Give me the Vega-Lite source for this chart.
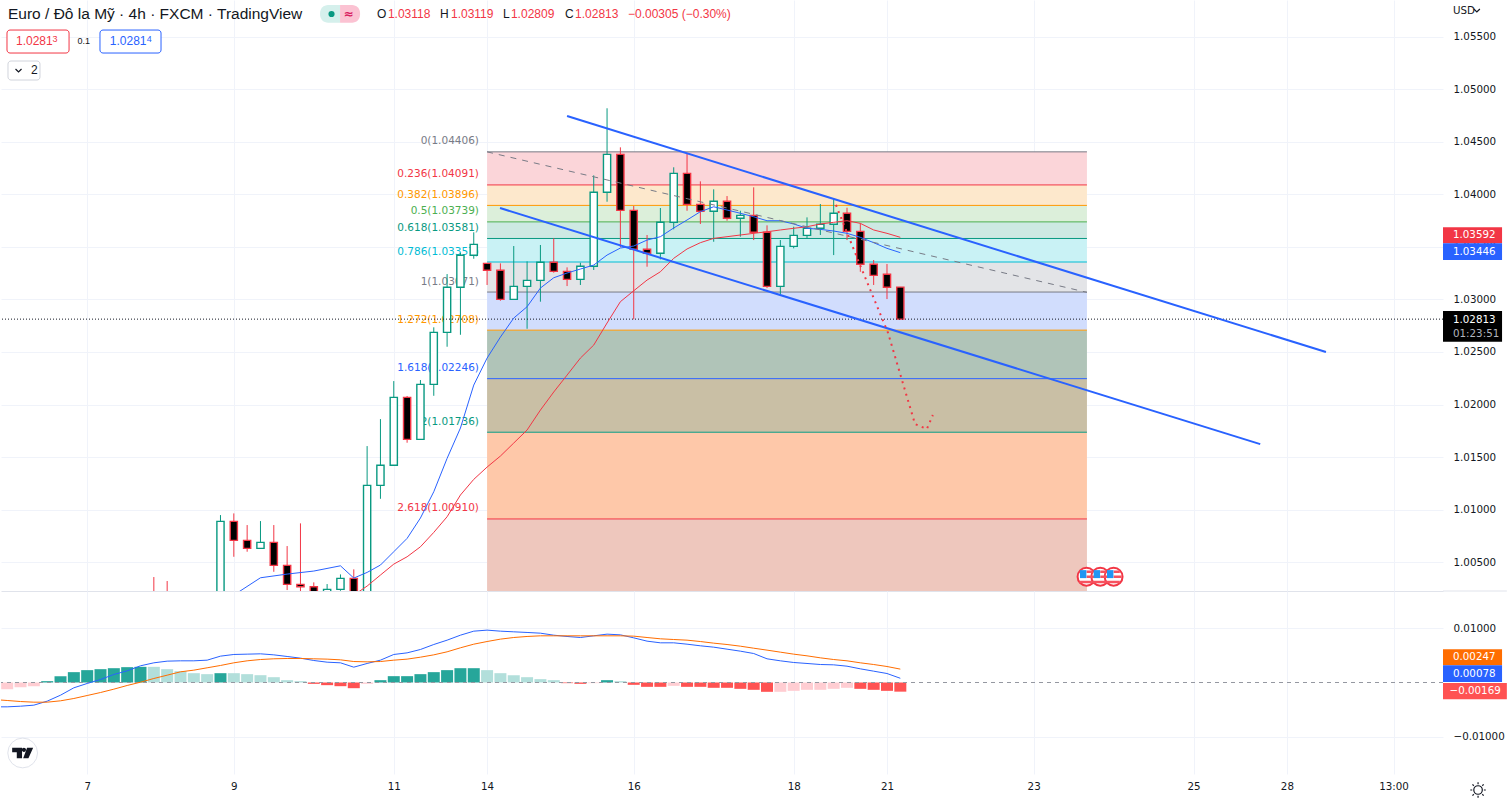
{"$schema":"https://vega.github.io/schema/vega-lite/v6.json","background":"#ffffff","padding":0,"spacing":0,"bounds":"flush","autosize":{"type":"pad"},"config":{"view":{"stroke":null},"text":{"font":"Liberation Sans"}},
"datasets":{
"candles":[
{"bar":11,"open":1.0015,"high":1.00357,"low":1.0005,"close":1.001,"dir":"down"},
{"bar":12,"open":1.0015,"high":1.00319,"low":1.0005,"close":1.001,"dir":"down"},
{"bar":16,"open":1.0,"high":1.00947,"low":0.999,"close":1.00887,"dir":"up"},
{"bar":17,"open":1.00887,"high":1.00963,"low":1.0055,"close":1.00706,"dir":"down"},
{"bar":18,"open":1.00706,"high":1.00852,"low":1.00598,"close":1.0063,"dir":"down"},
{"bar":19,"open":1.0063,"high":1.0089,"low":1.0063,"close":1.00687,"dir":"up"},
{"bar":20,"open":1.00687,"high":1.00852,"low":1.00407,"close":1.00468,"dir":"down"},
{"bar":21,"open":1.00468,"high":1.00652,"low":1.00233,"close":1.00287,"dir":"down"},
{"bar":22,"open":1.00287,"high":1.00868,"low":1.00185,"close":1.00264,"dir":"down"},
{"bar":23,"open":1.00264,"high":1.00306,"low":1.00042,"close":1.00138,"dir":"down"},
{"bar":24,"open":1.0009,"high":1.0029,"low":1.0004,"close":1.00239,"dir":"up"},
{"bar":25,"open":1.00239,"high":1.00382,"low":1.00226,"close":1.00344,"dir":"up"},
{"bar":26,"open":1.00344,"high":1.0043,"low":1.0014,"close":1.00185,"dir":"down"},
{"bar":27,"open":1.00185,"high":1.01604,"low":1.0015,"close":1.0123,"dir":"up"},
{"bar":28,"open":1.0123,"high":1.01861,"low":1.01102,"close":1.01421,"dir":"up"},
{"bar":29,"open":1.01421,"high":1.02223,"low":1.01421,"close":1.02068,"dir":"up"},
{"bar":30,"open":1.02068,"high":1.02081,"low":1.01636,"close":1.01668,"dir":"down"},
{"bar":31,"open":1.01668,"high":1.02233,"low":1.01668,"close":1.02192,"dir":"up"},
{"bar":32,"open":1.02192,"high":1.02735,"low":1.02083,"close":1.02687,"dir":"up"},
{"bar":33,"open":1.02687,"high":1.03242,"low":1.0255,"close":1.03116,"dir":"up"},
{"bar":34,"open":1.03116,"high":1.03445,"low":1.02664,"close":1.03421,"dir":"up"},
{"bar":35,"open":1.03421,"high":1.0364,"low":1.03388,"close":1.03525,"dir":"up"},
{"bar":36,"open":1.03344,"high":1.03344,"low":1.03138,"close":1.03278,"dir":"down"},
{"bar":37,"open":1.03278,"high":1.03344,"low":1.02988,"close":1.03001,"dir":"down"},
{"bar":38,"open":1.03001,"high":1.03509,"low":1.03001,"close":1.03125,"dir":"up"},
{"bar":39,"open":1.03125,"high":1.03363,"low":1.02721,"close":1.03182,"dir":"up"},
{"bar":40,"open":1.03182,"high":1.03519,"low":1.02979,"close":1.03354,"dir":"up"},
{"bar":41,"open":1.03354,"high":1.03582,"low":1.03255,"close":1.03268,"dir":"down"},
{"bar":42,"open":1.03268,"high":1.03306,"low":1.03128,"close":1.03192,"dir":"down"},
{"bar":43,"open":1.03192,"high":1.0335,"low":1.03138,"close":1.03316,"dir":"up"},
{"bar":44,"open":1.03316,"high":1.04182,"low":1.03281,"close":1.04021,"dir":"up"},
{"bar":45,"open":1.04021,"high":1.04821,"low":1.03931,"close":1.04382,"dir":"up"},
{"bar":46,"open":1.04382,"high":1.04449,"low":1.03497,"close":1.03849,"dir":"down"},
{"bar":47,"open":1.03849,"high":1.0389,"low":1.02811,"close":1.03478,"dir":"down"},
{"bar":48,"open":1.03478,"high":1.03614,"low":1.03312,"close":1.0344,"dir":"down"},
{"bar":49,"open":1.0344,"high":1.03871,"low":1.03382,"close":1.03735,"dir":"up"},
{"bar":50,"open":1.03735,"high":1.04259,"low":1.03668,"close":1.04201,"dir":"up"},
{"bar":51,"open":1.04201,"high":1.04392,"low":1.03845,"close":1.03906,"dir":"down"},
{"bar":52,"open":1.03906,"high":1.04125,"low":1.03719,"close":1.0384,"dir":"down"},
{"bar":53,"open":1.0384,"high":1.04049,"low":1.0355,"close":1.03935,"dir":"up"},
{"bar":54,"open":1.03935,"high":1.03985,"low":1.0375,"close":1.03773,"dir":"down"},
{"bar":55,"open":1.03773,"high":1.03845,"low":1.03598,"close":1.03801,"dir":"up"},
{"bar":56,"open":1.03801,"high":1.04068,"low":1.03566,"close":1.0364,"dir":"down"},
{"bar":57,"open":1.0364,"high":1.03706,"low":1.03109,"close":1.03125,"dir":"down"},
{"bar":58,"open":1.03125,"high":1.03566,"low":1.03049,"close":1.03506,"dir":"up"},
{"bar":59,"open":1.03506,"high":1.03693,"low":1.03487,"close":1.03611,"dir":"up"},
{"bar":60,"open":1.03611,"high":1.03782,"low":1.03582,"close":1.03678,"dir":"up"},
{"bar":61,"open":1.03678,"high":1.03909,"low":1.03614,"close":1.03716,"dir":"up"},
{"bar":62,"open":1.03716,"high":1.0396,"low":1.03423,"close":1.03821,"dir":"up"},
{"bar":63,"open":1.03821,"high":1.03874,"low":1.03566,"close":1.03649,"dir":"down"},
{"bar":64,"open":1.03649,"high":1.03725,"low":1.03264,"close":1.03335,"dir":"down"},
{"bar":65,"open":1.03335,"high":1.03376,"low":1.03138,"close":1.0323,"dir":"down"},
{"bar":66,"open":1.0324,"high":1.03338,"low":1.03004,"close":1.03116,"dir":"down"},
{"bar":67,"open":1.03118,"high":1.03119,"low":1.02809,"close":1.02813,"dir":"down"}
],
"ma":[
{"bar":17,"price":1.00185,"s":"fast"},{"bar":19,"price":1.0035,"s":"fast"},{"bar":21,"price":1.00385,"s":"fast"},{"bar":23,"price":1.00414,"s":"fast"},{"bar":25,"price":1.00464,"s":"fast"},{"bar":26,"price":1.00347,"s":"fast"},{"bar":27,"price":1.00401,"s":"fast"},{"bar":28,"price":1.00471,"s":"fast"},{"bar":29,"price":1.00598,"s":"fast"},{"bar":30,"price":1.00725,"s":"fast"},{"bar":31,"price":1.00919,"s":"fast"},{"bar":32,"price":1.01169,"s":"fast"},{"bar":33,"price":1.01487,"s":"fast"},{"bar":34,"price":1.01776,"s":"fast"},{"bar":35,"price":1.02185,"s":"fast"},{"bar":36,"price":1.02442,"s":"fast"},{"bar":37,"price":1.02642,"s":"fast"},{"bar":38,"price":1.02823,"s":"fast"},{"bar":39,"price":1.02931,"s":"fast"},{"bar":40,"price":1.03109,"s":"fast"},{"bar":41,"price":1.03207,"s":"fast"},{"bar":42,"price":1.03252,"s":"fast"},{"bar":43,"price":1.0329,"s":"fast"},{"bar":44,"price":1.03328,"s":"fast"},{"bar":45,"price":1.03423,"s":"fast"},{"bar":46,"price":1.0349,"s":"fast"},{"bar":47,"price":1.03509,"s":"fast"},{"bar":48,"price":1.03566,"s":"fast"},{"bar":49,"price":1.03598,"s":"fast"},{"bar":50,"price":1.03681,"s":"fast"},{"bar":51,"price":1.03757,"s":"fast"},{"bar":52,"price":1.03836,"s":"fast"},{"bar":53,"price":1.03883,"s":"fast"},{"bar":54,"price":1.03852,"s":"fast"},{"bar":55,"price":1.03821,"s":"fast"},{"bar":56,"price":1.03788,"s":"fast"},{"bar":57,"price":1.0375,"s":"fast"},{"bar":58,"price":1.0375,"s":"fast"},{"bar":59,"price":1.03719,"s":"fast"},{"bar":60,"price":1.03678,"s":"fast"},{"bar":61,"price":1.03668,"s":"fast"},{"bar":62,"price":1.03652,"s":"fast"},{"bar":63,"price":1.0363,"s":"fast"},{"bar":64,"price":1.03592,"s":"fast"},{"bar":65,"price":1.03541,"s":"fast"},{"bar":66,"price":1.03487,"s":"fast"},{"bar":67,"price":1.03446,"s":"fast"},
{"bar":26,"price":1.00185,"s":"slow"},{"bar":27,"price":1.00271,"s":"slow"},{"bar":28,"price":1.00376,"s":"slow"},{"bar":29,"price":1.0048,"s":"slow"},{"bar":30,"price":1.0055,"s":"slow"},{"bar":31,"price":1.00645,"s":"slow"},{"bar":32,"price":1.00782,"s":"slow"},{"bar":33,"price":1.00931,"s":"slow"},{"bar":34,"price":1.01138,"s":"slow"},{"bar":35,"price":1.01287,"s":"slow"},{"bar":36,"price":1.01404,"s":"slow"},{"bar":37,"price":1.01509,"s":"slow"},{"bar":38,"price":1.01633,"s":"slow"},{"bar":39,"price":1.01757,"s":"slow"},{"bar":40,"price":1.01947,"s":"slow"},{"bar":41,"price":1.02119,"s":"slow"},{"bar":42,"price":1.0228,"s":"slow"},{"bar":43,"price":1.02442,"s":"slow"},{"bar":44,"price":1.02566,"s":"slow"},{"bar":45,"price":1.02776,"s":"slow"},{"bar":46,"price":1.02979,"s":"slow"},{"bar":47,"price":1.03083,"s":"slow"},{"bar":48,"price":1.03185,"s":"slow"},{"bar":49,"price":1.03264,"s":"slow"},{"bar":50,"price":1.03392,"s":"slow"},{"bar":51,"price":1.03481,"s":"slow"},{"bar":52,"price":1.03541,"s":"slow"},{"bar":53,"price":1.03582,"s":"slow"},{"bar":54,"price":1.03598,"s":"slow"},{"bar":55,"price":1.03614,"s":"slow"},{"bar":56,"price":1.0363,"s":"slow"},{"bar":57,"price":1.03645,"s":"slow"},{"bar":58,"price":1.03662,"s":"slow"},{"bar":59,"price":1.03678,"s":"slow"},{"bar":60,"price":1.03693,"s":"slow"},{"bar":61,"price":1.03719,"s":"slow"},{"bar":62,"price":1.03735,"s":"slow"},{"bar":63,"price":1.0375,"s":"slow"},{"bar":64,"price":1.03725,"s":"slow"},{"bar":65,"price":1.03662,"s":"slow"},{"bar":66,"price":1.0363,"s":"slow"},{"bar":67,"price":1.03592,"s":"slow"}
],
"fib":[
{"level":"0","label":"0(1.04406)","price":1.04406,"next":1.04091,"from":36,"to":81},
{"level":"0.236","label":"0.236(1.04091)","price":1.04091,"next":1.03896,"from":36,"to":81},
{"level":"0.382","label":"0.382(1.03896)","price":1.03896,"next":1.03739,"from":36,"to":81},
{"level":"0.5","label":"0.5(1.03739)","price":1.03739,"next":1.03581,"from":36,"to":81},
{"level":"0.618","label":"0.618(1.03581)","price":1.03581,"next":1.03357,"from":36,"to":81},
{"level":"0.786","label":"0.786(1.03357)","price":1.03357,"next":1.03071,"from":36,"to":81},
{"level":"1","label":"1(1.03071)","price":1.03071,"next":1.02708,"from":36,"to":81},
{"level":"1.272","label":"1.272(1.02708)","price":1.02708,"next":1.02246,"from":36,"to":81},
{"level":"1.618","label":"1.618(1.02246)","price":1.02246,"next":1.01736,"from":36,"to":81},
{"level":"2","label":"2(1.01736)","price":1.01736,"next":1.0091,"from":36,"to":81},
{"level":"2.618","label":"2.618(1.00910)","price":1.0091,"next":0.99576,"from":36,"to":81}
],
"trend":[
{"line":"upper","bar":42,"price":1.04747},{"line":"upper","bar":98.93,"price":1.025},
{"line":"lower","bar":36.97,"price":1.03871},{"line":"lower","bar":94,"price":1.01623}
],
"diag":[{"bar":36,"price":1.04406},{"bar":81,"price":1.03068}],
"path":[{"bar":62.17,"price":1.039},{"bar":63.98,"price":1.03328},{"bar":66.08,"price":1.02681},{"bar":68.1,"price":1.01814},{"bar":68.99,"price":1.01766},{"bar":69.44,"price":1.019}],
"flags":[{"bar":80.97,"price":1.0036},{"bar":82,"price":1.0036},{"bar":83,"price":1.0036}],
"boxes":[
{"b0":-0.015,"b1":4.64,"p0":1.05566,"p1":1.05347,"k":"red"},
{"b0":6.96,"b1":11.54,"p0":1.05566,"p1":1.05347,"k":"blue"},
{"b0":0.06,"b1":2.46,"p0":1.05271,"p1":1.0509,"k":"gray"}
],
"head14":[{"bar":0.06,"price":1.05719,"t":"Euro / Đô la Mỹ · 4h · FXCM · TradingView"}],
"head12":[
{"bar":27.74,"price":1.05719,"t":"O","k":"dark"},{"bar":28.56,"price":1.05719,"t":"1.03118","k":"red"},
{"bar":32.46,"price":1.05719,"t":"H","k":"dark"},{"bar":33.29,"price":1.05719,"t":"1.03119","k":"red"},
{"bar":37.19,"price":1.05719,"t":"L","k":"dark"},{"bar":37.79,"price":1.05719,"t":"1.02809","k":"red"},
{"bar":41.84,"price":1.05719,"t":"C","k":"dark"},{"bar":42.6,"price":1.05719,"t":"1.02813","k":"red"},
{"bar":46.57,"price":1.05719,"t":"−0.00305 (−0.30%)","k":"red"},
{"bar":0.66,"price":1.05457,"t":"1.0281","k":"red"},
{"bar":7.7,"price":1.05457,"t":"1.0281","k":"blue"},
{"bar":1.79,"price":1.05181,"t":"2","k":"dark"}
],
"head9":[
{"bar":3.4,"price":1.05477,"t":"3","k":"red"},
{"bar":10.47,"price":1.05477,"t":"4","k":"blue"},
{"bar":5.28,"price":1.05457,"t":"0.1","k":"dark"}
],
"tags":[
{"p0":1.03687,"p1":1.03535,"k":"red","b0":107.71,"b1":112.14},
{"p0":1.03535,"p1":1.03376,"k":"blue","b0":107.71,"b1":112.14},
{"p0":1.0289,"p1":1.02598,"k":"black","b0":107.71,"b1":112.14}
],
"tagText":[
{"bar":108.46,"price":1.03614,"t":"1.03592","k":"white"},
{"bar":108.46,"price":1.03452,"t":"1.03446","k":"white"},
{"bar":108.46,"price":1.02809,"t":"1.02813","k":"white"},
{"bar":108.46,"price":1.02671,"t":"01:23:51","k":"muted"}
],
"usd":[{"bar":108.46,"price":1.05752,"t":"USD"}],
"last":[{"price":1.02813}],
"sep":[{"b0":107.71,"b1":112.5,"price":1.00224}],
"pillDot":[{"bar":24.33,"price":1.05719}],
"pillSign":[{"bar":25.6,"price":1.05719,"t":"≈"}],
"pillL":[{"b0":23.47,"b1":24.97,"p0":1.05804,"p1":1.05636}],
"pillR":[{"b0":24.97,"b1":26.47,"p0":1.05804,"p1":1.05636}],
"chev":[{"bar":0.85,"price":1.05181,"k":"box"},{"bar":110.25,"price":1.05752,"k":"usd"}],
"hist":[
{"bar":0,"v":-0.00123,"st":"fall"},{"bar":1,"v":-0.00086,"st":"fall"},{"bar":2,"v":-0.00068,"st":"fall"},{"bar":3,"v":0.00025,"st":"grow"},{"bar":4,"v":0.00117,"st":"grow"},{"bar":5,"v":0.00191,"st":"grow"},{"bar":6,"v":0.00228,"st":"grow"},{"bar":7,"v":0.00246,"st":"grow"},{"bar":8,"v":0.00264,"st":"grow"},{"bar":9,"v":0.00283,"st":"grow"},{"bar":10,"v":0.00289,"st":"grow"},{"bar":11,"v":0.00289,"st":"ease"},{"bar":12,"v":0.00246,"st":"ease"},{"bar":13,"v":0.00209,"st":"ease"},{"bar":14,"v":0.00172,"st":"ease"},{"bar":15,"v":0.00154,"st":"ease"},{"bar":16,"v":0.00172,"st":"grow"},{"bar":17,"v":0.00172,"st":"ease"},{"bar":18,"v":0.00154,"st":"ease"},{"bar":19,"v":0.00135,"st":"ease"},{"bar":20,"v":0.00098,"st":"ease"},{"bar":21,"v":0.00043,"st":"ease"},{"bar":22,"v":0.00025,"st":"ease"},{"bar":23,"v":-0.00025,"st":"drop"},{"bar":24,"v":-0.00049,"st":"drop"},{"bar":25,"v":-0.00068,"st":"drop"},{"bar":26,"v":-0.00105,"st":"drop"},{"bar":27,"v":-0.00025,"st":"fall"},{"bar":28,"v":0.00043,"st":"grow"},{"bar":29,"v":0.00117,"st":"grow"},{"bar":30,"v":0.00117,"st":"grow"},{"bar":31,"v":0.00154,"st":"grow"},{"bar":32,"v":0.00191,"st":"grow"},{"bar":33,"v":0.00228,"st":"grow"},{"bar":34,"v":0.00264,"st":"grow"},{"bar":35,"v":0.00264,"st":"grow"},{"bar":36,"v":0.00228,"st":"ease"},{"bar":37,"v":0.00172,"st":"ease"},{"bar":38,"v":0.00135,"st":"ease"},{"bar":39,"v":0.00098,"st":"ease"},{"bar":40,"v":0.00062,"st":"ease"},{"bar":41,"v":0.00043,"st":"ease"},{"bar":42,"v":-0.00012,"st":"drop"},{"bar":43,"v":-0.00025,"st":"drop"},{"bar":44,"v":-0.00012,"st":"fall"},{"bar":45,"v":0.00043,"st":"grow"},{"bar":46,"v":0.00025,"st":"ease"},{"bar":47,"v":-0.00043,"st":"drop"},{"bar":48,"v":-0.0008,"st":"drop"},{"bar":49,"v":-0.0008,"st":"drop"},{"bar":50,"v":-0.00062,"st":"fall"},{"bar":51,"v":-0.0008,"st":"drop"},{"bar":52,"v":-0.0008,"st":"drop"},{"bar":53,"v":-0.00098,"st":"drop"},{"bar":54,"v":-0.00098,"st":"drop"},{"bar":55,"v":-0.00117,"st":"drop"},{"bar":56,"v":-0.00135,"st":"drop"},{"bar":57,"v":-0.00172,"st":"drop"},{"bar":58,"v":-0.00172,"st":"fall"},{"bar":59,"v":-0.00154,"st":"fall"},{"bar":60,"v":-0.00135,"st":"fall"},{"bar":61,"v":-0.00135,"st":"fall"},{"bar":62,"v":-0.00117,"st":"fall"},{"bar":63,"v":-0.00098,"st":"fall"},{"bar":64,"v":-0.00117,"st":"drop"},{"bar":65,"v":-0.00135,"st":"drop"},{"bar":66,"v":-0.00154,"st":"drop"},{"bar":67,"v":-0.00169,"st":"drop"}
],
"macd":[
{"bar":-1,"v":-0.00449,"s":"macd"},{"bar":0,"v":-0.00449,"s":"macd"},{"bar":1,"v":-0.00437,"s":"macd"},{"bar":2,"v":-0.00418,"s":"macd"},{"bar":3,"v":-0.00344,"s":"macd"},{"bar":4,"v":-0.00234,"s":"macd"},{"bar":5,"v":-0.00098,"s":"macd"},{"bar":6,"v":-0.00018,"s":"macd"},{"bar":7,"v":0.00055,"s":"macd"},{"bar":8,"v":0.00148,"s":"macd"},{"bar":9,"v":0.00215,"s":"macd"},{"bar":10,"v":0.00308,"s":"macd"},{"bar":11,"v":0.00363,"s":"macd"},{"bar":12,"v":0.00394,"s":"macd"},{"bar":13,"v":0.004,"s":"macd"},{"bar":14,"v":0.004,"s":"macd"},{"bar":15,"v":0.00412,"s":"macd"},{"bar":16,"v":0.00486,"s":"macd"},{"bar":17,"v":0.00517,"s":"macd"},{"bar":18,"v":0.00523,"s":"macd"},{"bar":19,"v":0.00529,"s":"macd"},{"bar":20,"v":0.0051,"s":"macd"},{"bar":21,"v":0.0048,"s":"macd"},{"bar":22,"v":0.00449,"s":"macd"},{"bar":23,"v":0.00406,"s":"macd"},{"bar":24,"v":0.00375,"s":"macd"},{"bar":25,"v":0.00363,"s":"macd"},{"bar":26,"v":0.00283,"s":"macd"},{"bar":27,"v":0.00351,"s":"macd"},{"bar":28,"v":0.00412,"s":"macd"},{"bar":29,"v":0.00517,"s":"macd"},{"bar":30,"v":0.00547,"s":"macd"},{"bar":31,"v":0.00609,"s":"macd"},{"bar":32,"v":0.00701,"s":"macd"},{"bar":33,"v":0.00781,"s":"macd"},{"bar":34,"v":0.00873,"s":"macd"},{"bar":35,"v":0.00947,"s":"macd"},{"bar":36,"v":0.00966,"s":"macd"},{"bar":37,"v":0.00947,"s":"macd"},{"bar":38,"v":0.00935,"s":"macd"},{"bar":39,"v":0.00923,"s":"macd"},{"bar":40,"v":0.0091,"s":"macd"},{"bar":41,"v":0.00873,"s":"macd"},{"bar":42,"v":0.00849,"s":"macd"},{"bar":43,"v":0.0083,"s":"macd"},{"bar":44,"v":0.00861,"s":"macd"},{"bar":45,"v":0.00892,"s":"macd"},{"bar":46,"v":0.00879,"s":"macd"},{"bar":47,"v":0.00824,"s":"macd"},{"bar":48,"v":0.00763,"s":"macd"},{"bar":49,"v":0.00732,"s":"macd"},{"bar":50,"v":0.00732,"s":"macd"},{"bar":51,"v":0.00707,"s":"macd"},{"bar":52,"v":0.00677,"s":"macd"},{"bar":53,"v":0.00652,"s":"macd"},{"bar":54,"v":0.00615,"s":"macd"},{"bar":55,"v":0.00578,"s":"macd"},{"bar":56,"v":0.00535,"s":"macd"},{"bar":57,"v":0.00437,"s":"macd"},{"bar":58,"v":0.004,"s":"macd"},{"bar":59,"v":0.00369,"s":"macd"},{"bar":60,"v":0.00351,"s":"macd"},{"bar":61,"v":0.00332,"s":"macd"},{"bar":62,"v":0.00326,"s":"macd"},{"bar":63,"v":0.00301,"s":"macd"},{"bar":64,"v":0.00252,"s":"macd"},{"bar":65,"v":0.00209,"s":"macd"},{"bar":66,"v":0.00166,"s":"macd"},{"bar":67,"v":0.00078,"s":"macd"},
{"bar":-1,"v":-0.00314,"s":"signal"},{"bar":0,"v":-0.00332,"s":"signal"},{"bar":1,"v":-0.00351,"s":"signal"},{"bar":2,"v":-0.00363,"s":"signal"},{"bar":3,"v":-0.00363,"s":"signal"},{"bar":4,"v":-0.00338,"s":"signal"},{"bar":5,"v":-0.00295,"s":"signal"},{"bar":6,"v":-0.0024,"s":"signal"},{"bar":7,"v":-0.00185,"s":"signal"},{"bar":8,"v":-0.00123,"s":"signal"},{"bar":9,"v":-0.00055,"s":"signal"},{"bar":10,"v":0.00006,"s":"signal"},{"bar":11,"v":0.00074,"s":"signal"},{"bar":12,"v":0.00135,"s":"signal"},{"bar":13,"v":0.00197,"s":"signal"},{"bar":14,"v":0.00228,"s":"signal"},{"bar":15,"v":0.00271,"s":"signal"},{"bar":16,"v":0.00314,"s":"signal"},{"bar":17,"v":0.00363,"s":"signal"},{"bar":18,"v":0.004,"s":"signal"},{"bar":19,"v":0.00424,"s":"signal"},{"bar":20,"v":0.00437,"s":"signal"},{"bar":21,"v":0.00443,"s":"signal"},{"bar":22,"v":0.00443,"s":"signal"},{"bar":23,"v":0.00437,"s":"signal"},{"bar":24,"v":0.00431,"s":"signal"},{"bar":25,"v":0.00418,"s":"signal"},{"bar":26,"v":0.00387,"s":"signal"},{"bar":27,"v":0.00381,"s":"signal"},{"bar":28,"v":0.00387,"s":"signal"},{"bar":29,"v":0.00412,"s":"signal"},{"bar":30,"v":0.00431,"s":"signal"},{"bar":31,"v":0.00467,"s":"signal"},{"bar":32,"v":0.0051,"s":"signal"},{"bar":33,"v":0.00566,"s":"signal"},{"bar":34,"v":0.0064,"s":"signal"},{"bar":35,"v":0.00707,"s":"signal"},{"bar":36,"v":0.00756,"s":"signal"},{"bar":37,"v":0.008,"s":"signal"},{"bar":38,"v":0.0083,"s":"signal"},{"bar":39,"v":0.00849,"s":"signal"},{"bar":40,"v":0.00861,"s":"signal"},{"bar":41,"v":0.00861,"s":"signal"},{"bar":42,"v":0.00861,"s":"signal"},{"bar":43,"v":0.00861,"s":"signal"},{"bar":44,"v":0.00861,"s":"signal"},{"bar":45,"v":0.00861,"s":"signal"},{"bar":46,"v":0.00861,"s":"signal"},{"bar":47,"v":0.00855,"s":"signal"},{"bar":48,"v":0.0083,"s":"signal"},{"bar":49,"v":0.00806,"s":"signal"},{"bar":50,"v":0.00793,"s":"signal"},{"bar":51,"v":0.00781,"s":"signal"},{"bar":52,"v":0.00756,"s":"signal"},{"bar":53,"v":0.00726,"s":"signal"},{"bar":54,"v":0.00701,"s":"signal"},{"bar":55,"v":0.0067,"s":"signal"},{"bar":56,"v":0.00633,"s":"signal"},{"bar":57,"v":0.00597,"s":"signal"},{"bar":58,"v":0.0056,"s":"signal"},{"bar":59,"v":0.00523,"s":"signal"},{"bar":60,"v":0.00492,"s":"signal"},{"bar":61,"v":0.00455,"s":"signal"},{"bar":62,"v":0.00424,"s":"signal"},{"bar":63,"v":0.004,"s":"signal"},{"bar":64,"v":0.00363,"s":"signal"},{"bar":65,"v":0.00332,"s":"signal"},{"bar":66,"v":0.00295,"s":"signal"},{"bar":67,"v":0.00247,"s":"signal"}
],
"mTags":[
{"v0":0.00613,"v1":0.00317,"k":"orange","b0":107.71,"b1":112.14},
{"v0":0.00317,"v1":0.00009,"k":"blue","b0":107.71,"b1":112.14},
{"v0":-0.00009,"v1":-0.0031,"k":"red","b0":107.71,"b1":112.5}
],
"mTagText":[
{"bar":108.46,"v":0.00465,"t":"0.00247"},
{"bar":108.46,"v":0.00157,"t":"0.00078"},
{"bar":108.2,"v":-0.00157,"t":"−0.00169"}
],
"logoBg":[{"bar":1.16,"v":-0.013}],
"sun":[{"bar":110.34,"v":-0.01983}]
},
"vconcat":[
{"width":1442,"height":591,
"resolve":{"scale":{"color":"independent","stroke":"independent","fill":"independent"}},
"layer":[
{"data":{"name":"fib"},"mark":{"type":"rect","clip":true},"encoding":{
"x":{"field":"from","type":"quantitative","scale":{"domain":[-0.465,107.71],"nice":false,"zero":false,"padding":0},
"axis":{"title":null,"values":[6,17,29,36,47,59,66,77,89,96,104],"labels":false,"ticks":false,"domain":true,"domainColor":"#e0e3eb","grid":true,"gridColor":"#f0f3fa"}},
"x2":{"field":"to"},
"y":{"field":"price","type":"quantitative","scale":{"domain":[1.00224,1.05852],"nice":false,"zero":false},
"axis":{"title":null,"orient":"right","values":[1.005,1.01,1.015,1.02,1.025,1.03,1.035,1.04,1.045,1.05,1.055],"format":".5f","grid":true,"gridColor":"#f0f3fa","domain":false,"ticks":false,"labelPadding":10,"labelFont":"DejaVu Sans","labelFontSize":10.3,"labelColor":"#131722"}},
"y2":{"field":"next"},
"fill":{"field":"level","type":"nominal","legend":null,"scale":{"domain":["0","0.236","0.382","0.5","0.618","0.786","1","1.272","1.618","2","2.618"],"range":["#fbd5d9","#fde8cc","#dcefda","#cde9e3","#c9f2f5","#e3e4e7","#d1ddfd","#b0c4b8","#c9bfa5","#fec8a9","#eec7bd"]}}}},
{"data":{"name":"fib"},"mark":{"type":"rule","strokeWidth":1},"encoding":{"x":{"field":"from","type":"quantitative"},"x2":{"field":"to"},"y":{"field":"price","type":"quantitative"},
"stroke":{"field":"level","type":"nominal","legend":null,"scale":{"domain":["0","0.236","0.382","0.5","0.618","0.786","1","1.272","1.618","2","2.618"],"range":["#787b86","#f23645","#ff9800","#4caf50","#089981","#00bcd4","#787b86","#ff9800","#2962ff","#089981","#f23645"]}}}},
{"data":{"name":"fib"},"mark":{"type":"text","align":"right","baseline":"middle","dy":-10.5,"font":"DejaVu Sans","fontSize":10.5},"encoding":{"x":{"datum":35.39,"type":"quantitative"},"y":{"field":"price","type":"quantitative"},"text":{"field":"label"},
"color":{"field":"level","type":"nominal","legend":null,"scale":{"domain":["0","0.236","0.382","0.5","0.618","0.786","1","1.272","1.618","2","2.618"],"range":["#787b86","#f23645","#ff9800","#4caf50","#089981","#00bcd4","#787b86","#ff9800","#2962ff","#089981","#f23645"]}}}},
{"data":{"name":"candles"},"mark":{"type":"rule","clip":true,"strokeWidth":1},"encoding":{"x":{"field":"bar","type":"quantitative"},"y":{"field":"low","type":"quantitative"},"y2":{"field":"high"},
"stroke":{"field":"dir","type":"nominal","legend":null,"scale":{"domain":["up","down"],"range":["#089981","#f23645"]}}}},
{"data":{"name":"candles"},"mark":{"type":"bar","clip":true,"size":7.2,"strokeWidth":1.4,"orient":"vertical"},"encoding":{"x":{"field":"bar","type":"quantitative"},"y":{"field":"open","type":"quantitative"},"y2":{"field":"close"},
"fill":{"field":"dir","type":"nominal","legend":null,"scale":{"domain":["up","down"],"range":["#ffffff","#000000"]}},
"stroke":{"field":"dir","type":"nominal","legend":null,"scale":{"domain":["up","down"],"range":["#089981","#f23645"]}}}},
{"data":{"name":"last"},"mark":{"type":"rule","stroke":"#131722","strokeDash":[1,2],"strokeWidth":1},"encoding":{"y":{"field":"price","type":"quantitative"}}},
{"data":{"name":"sep"},"mark":{"type":"rule","stroke":"#e0e3eb","strokeWidth":1},"encoding":{"x":{"field":"b0","type":"quantitative"},"x2":{"field":"b1"},"y":{"field":"price","type":"quantitative"}}},
{"data":{"name":"ma"},"mark":{"type":"line","clip":true,"strokeWidth":1},"encoding":{"x":{"field":"bar","type":"quantitative"},"y":{"field":"price","type":"quantitative"},
"stroke":{"field":"s","type":"nominal","legend":null,"scale":{"domain":["fast","slow"],"range":["#2962ff","#f23645"]}}}},
{"data":{"name":"trend"},"mark":{"type":"line","stroke":"#2962ff","strokeWidth":2},"encoding":{"x":{"field":"bar","type":"quantitative"},"y":{"field":"price","type":"quantitative"},"detail":{"field":"line"}}},
{"data":{"name":"diag"},"mark":{"type":"line","stroke":"#787b86","strokeWidth":1,"strokeDash":[6,6]},"encoding":{"x":{"field":"bar","type":"quantitative"},"y":{"field":"price","type":"quantitative"}}},
{"data":{"name":"path"},"mark":{"type":"line","stroke":"#f23645","strokeWidth":2,"strokeDash":[2,4.5]},"encoding":{"x":{"field":"bar","type":"quantitative"},"y":{"field":"price","type":"quantitative"}}},
{"data":{"name":"flags"},"mark":{"type":"point","shape":"circle","filled":true,"fill":"#ffffff","stroke":"#f23645","strokeWidth":2,"size":320,"opacity":1},"encoding":{"x":{"field":"bar","type":"quantitative"},"y":{"field":"price","type":"quantitative"}}},
{"data":{"name":"flags"},"mark":{"type":"point","shape":"M0 -.62H.62V-.36H0ZM0 -.12H.8V.14H0ZM-.72 .4H.62V.66H-.72Z","filled":true,"fill":"#f7525f","size":400,"opacity":1},"encoding":{"x":{"field":"bar","type":"quantitative"},"y":{"field":"price","type":"quantitative"}}},
{"data":{"name":"flags"},"mark":{"type":"point","shape":"M-.66 -.66H-.02V.14H-.66Z","filled":true,"fill":"#2196f3","size":400,"opacity":1},"encoding":{"x":{"field":"bar","type":"quantitative"},"y":{"field":"price","type":"quantitative"}}},
{"data":{"name":"boxes"},"mark":{"type":"rect","fill":"#ffffff","cornerRadius":3,"strokeWidth":1},"encoding":{"x":{"field":"b0","type":"quantitative"},"x2":{"field":"b1"},"y":{"field":"p0","type":"quantitative"},"y2":{"field":"p1"},
"stroke":{"field":"k","type":"nominal","legend":null,"scale":{"domain":["red","blue","gray"],"range":["#f23645","#2962ff","#d1d4dc"]}}}},
{"data":{"name":"pillL"},"mark":{"type":"rect","fill":"#d5f0ec","cornerRadiusTopLeft":8,"cornerRadiusBottomLeft":8},"encoding":{"x":{"field":"b0","type":"quantitative"},"x2":{"field":"b1"},"y":{"field":"p0","type":"quantitative"},"y2":{"field":"p1"}}},
{"data":{"name":"pillR"},"mark":{"type":"rect","fill":"#fbc2d2","cornerRadiusTopRight":8,"cornerRadiusBottomRight":8},"encoding":{"x":{"field":"b0","type":"quantitative"},"x2":{"field":"b1"},"y":{"field":"p0","type":"quantitative"},"y2":{"field":"p1"}}},
{"data":{"name":"pillDot"},"mark":{"type":"point","shape":"circle","filled":true,"fill":"#089981","size":38,"opacity":1},"encoding":{"x":{"field":"bar","type":"quantitative"},"y":{"field":"price","type":"quantitative"}}},
{"data":{"name":"pillSign"},"mark":{"type":"text","font":"DejaVu Sans","fontWeight":"bold","fontSize":12,"fill":"#d81b60","align":"center","baseline":"middle"},"encoding":{"x":{"field":"bar","type":"quantitative"},"y":{"field":"price","type":"quantitative"},"text":{"field":"t"}}},
{"data":{"name":"head14"},"mark":{"type":"text","font":"Liberation Sans","fontSize":15.5,"fill":"#131722","align":"left","baseline":"middle"},"encoding":{"x":{"field":"bar","type":"quantitative"},"y":{"field":"price","type":"quantitative"},"text":{"field":"t"}}},
{"data":{"name":"head12"},"mark":{"type":"text","font":"Liberation Sans","fontSize":12,"align":"left","baseline":"middle"},"encoding":{"x":{"field":"bar","type":"quantitative"},"y":{"field":"price","type":"quantitative"},"text":{"field":"t"},
"fill":{"field":"k","type":"nominal","legend":null,"scale":{"domain":["dark","red","blue"],"range":["#131722","#f23645","#2962ff"]}}}},
{"data":{"name":"head9"},"mark":{"type":"text","font":"Liberation Sans","fontSize":9,"align":"left","baseline":"middle"},"encoding":{"x":{"field":"bar","type":"quantitative"},"y":{"field":"price","type":"quantitative"},"text":{"field":"t"},
"fill":{"field":"k","type":"nominal","legend":null,"scale":{"domain":["dark","red","blue"],"range":["#131722","#f23645","#2962ff"]}}}},
{"data":{"name":"chev"},"mark":{"type":"point","shape":"M-1 -.5L0 .5L1 -.5","filled":false,"stroke":"#131722","strokeWidth":1.2,"size":36,"opacity":1},"encoding":{"x":{"field":"bar","type":"quantitative"},"y":{"field":"price","type":"quantitative"}}},
{"data":{"name":"usd"},"mark":{"type":"text","font":"DejaVu Sans","fontSize":10.3,"fill":"#131722","align":"left","baseline":"middle"},"encoding":{"x":{"field":"bar","type":"quantitative"},"y":{"field":"price","type":"quantitative"},"text":{"field":"t"}}},
{"data":{"name":"tags"},"mark":{"type":"rect"},"encoding":{"x":{"field":"b0","type":"quantitative"},"x2":{"field":"b1"},"y":{"field":"p0","type":"quantitative"},"y2":{"field":"p1"},
"fill":{"field":"k","type":"nominal","legend":null,"scale":{"domain":["red","blue","black"],"range":["#f23645","#2962ff","#000000"]}}}},
{"data":{"name":"tagText"},"mark":{"type":"text","font":"DejaVu Sans","fontSize":10.3,"align":"left","baseline":"middle"},"encoding":{"x":{"field":"bar","type":"quantitative"},"y":{"field":"price","type":"quantitative"},"text":{"field":"t"},
"fill":{"field":"k","type":"nominal","legend":null,"scale":{"domain":["white","muted"],"range":["#ffffff","#b2b5be"]}}}}
]},
{"width":1442,"height":183,
"resolve":{"scale":{"color":"independent","stroke":"independent","fill":"independent"}},
"layer":[
{"data":{"name":"hist"},"mark":{"type":"bar","size":12,"orient":"vertical"},"encoding":{
"x":{"field":"bar","type":"quantitative","scale":{"domain":[-0.465,107.71],"nice":false,"zero":false,"padding":0},
"axis":{"title":null,"values":[6,17,29,36,47,59,66,77,89,96,104],"labelExpr":"{'6':'7','17':'9','29':'11','36':'14','47':'16','59':'18','66':'21','77':'23','89':'25','96':'28','104':'13:00'}[datum.value]","ticks":false,"domain":false,"grid":true,"gridColor":"#f0f3fa","labelPadding":7,"labelFont":"DejaVu Sans","labelFontSize":10.3,"labelColor":"#131722"}},
"y":{"field":"v","type":"quantitative","scale":{"domain":[-0.01688,0.01688],"nice":false,"zero":false},
"axis":{"title":null,"orient":"right","values":[-0.01,0.01],"format":".5f","grid":true,"gridColor":"#f0f3fa","domain":false,"ticks":false,"labelPadding":10,"labelFont":"DejaVu Sans","labelFontSize":10.3,"labelColor":"#131722"}},
"y2":{"datum":0},
"fill":{"field":"st","type":"nominal","legend":null,"scale":{"domain":["grow","ease","drop","fall"],"range":["#26a69a","#b2dfdb","#ff5252","#ffcdd2"]}}}},
{"data":{"values":[{"v":0}]},"mark":{"type":"rule","stroke":"#9598a1","strokeDash":[4,4],"strokeWidth":1},"encoding":{"y":{"field":"v","type":"quantitative"}}},
{"data":{"name":"macd"},"mark":{"type":"line","clip":true,"strokeWidth":1},"encoding":{"x":{"field":"bar","type":"quantitative"},"y":{"field":"v","type":"quantitative"},
"stroke":{"field":"s","type":"nominal","legend":null,"scale":{"domain":["macd","signal"],"range":["#2962ff","#ff6d00"]}}}},
{"data":{"name":"mTags"},"mark":{"type":"rect"},"encoding":{"x":{"field":"b0","type":"quantitative"},"x2":{"field":"b1"},"y":{"field":"v0","type":"quantitative"},"y2":{"field":"v1"},
"fill":{"field":"k","type":"nominal","legend":null,"scale":{"domain":["orange","blue","red"],"range":["#ff6d00","#2962ff","#ff5252"]}}}},
{"data":{"name":"mTagText"},"mark":{"type":"text","font":"DejaVu Sans","fontSize":10.3,"fill":"#ffffff","align":"left","baseline":"middle"},"encoding":{"x":{"field":"bar","type":"quantitative"},"y":{"field":"v","type":"quantitative"},"text":{"field":"t"}}},
{"data":{"name":"logoBg"},"mark":{"type":"point","shape":"circle","filled":true,"fill":"#ffffff","stroke":"#e0e3eb","strokeWidth":1,"size":887,"opacity":1},"encoding":{"x":{"field":"bar","type":"quantitative"},"y":{"field":"v","type":"quantitative"}}},
{"data":{"name":"logoBg"},"mark":{"type":"point","shape":"M-1 -.5H-.06V.5H-.56V-.06H-1ZM.32 -.3A.2 .2 0 1 1 -.08 -.3A.2 .2 0 1 1 .32 -.3ZM.42 -.5H1L.55 .5H.05Z","filled":true,"fill":"#131722","size":441,"opacity":1},"encoding":{"x":{"field":"bar","type":"quantitative"},"y":{"field":"v","type":"quantitative"}}},
{"data":{"name":"sun"},"mark":{"type":"point","shape":"M.55 0A.55 .55 0 1 1 -.55 0A.55 .55 0 1 1 .55 0ZM0 -.75V-1M0 .75V1M-.75 0H-1M.75 0H1M-.55 -.55L-.72 -.72M.55 .55L.72 .72M-.55 .55L-.72 .72M.55 -.55L.72 -.72","filled":false,"stroke":"#131722","strokeWidth":1.2,"size":240,"opacity":1},"encoding":{"x":{"field":"bar","type":"quantitative"},"y":{"field":"v","type":"quantitative"}}}
]}
]}
